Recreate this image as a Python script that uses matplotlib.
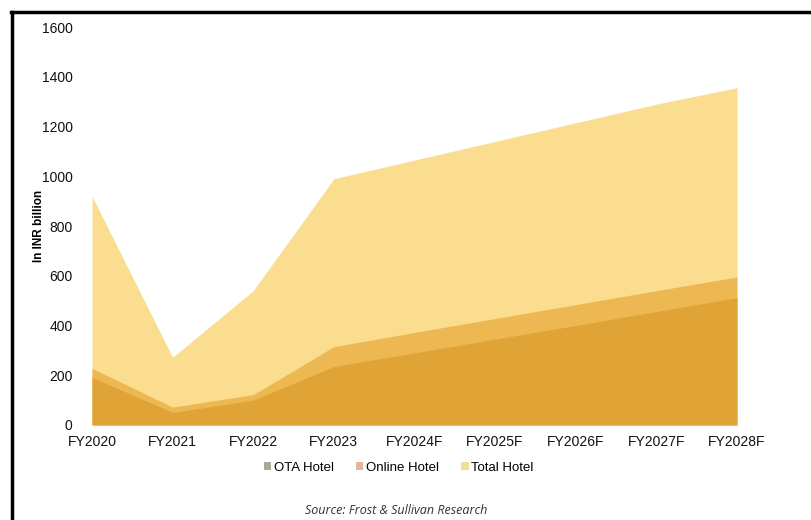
import matplotlib.pyplot as plt
from matplotlib.patches import Patch
from matplotlib.lines import Line2D

plt.rcParams['font.family'] = ['Liberation Sans', 'DejaVu Sans']

# Data (INR billion)
years = ["FY2020", "FY2021", "FY2022", "FY2023", "FY2024F",
         "FY2025F", "FY2026F", "FY2027F", "FY2028F"]
total_hotel = [920, 272, 540, 990, 1065, 1140, 1215, 1290, 1356]
online_hotel = [228, 72, 122, 315, 372, 428, 484, 540, 595]
ota_hotel = [192, 50, 100, 235, 290, 345, 400, 456, 512]

# Area colours and (differently coloured) legend swatches
area_colors = {"total": "#FADD8E", "online": "#EDB851", "ota": "#E0A335"}
legend_colors = ["#B0A79C", "#E2B79C", "#F5DE8C"]

fig = plt.figure(figsize=(8.12, 5.2), dpi=100)
ax = fig.add_axes([0.1133, 0.1827, 0.7943, 0.7653])

x = list(range(len(years)))
ax.fill_between(x, 0, total_hotel, color=area_colors["total"], lw=0)
ax.fill_between(x, 0, online_hotel, color=area_colors["online"], lw=0)
ax.fill_between(x, 0, ota_hotel, color=area_colors["ota"], lw=0)

ax.set_xlim(0, len(years) - 1)
ax.set_ylim(0, 1600)
ax.set_yticks(range(0, 1601, 200))
ax.set_xticks(x)
ax.set_xticklabels(years)
ax.tick_params(length=0, labelsize=10, colors="#111111")
ax.tick_params(axis="y", pad=14)
ax.tick_params(axis="x", pad=7)
for s in ax.spines.values():
    s.set_visible(False)

ax.set_ylabel("In INR billion", fontsize=8.5, fontweight="bold")
ax.yaxis.set_label_coords(-0.073, 0.5)

handles = [Patch(facecolor=c, edgecolor="none") for c in legend_colors]
fig.legend(handles, ["OTA Hotel", "Online Hotel", "Total Hotel"],
           loc="center", bbox_to_anchor=(0.491, 0.100), ncol=3, frameon=False,
           fontsize=9.5, handlelength=0.55, handleheight=0.55,
           handletextpad=0.2, columnspacing=1.7)

fig.text(0.488, 0.018, "Source: Frost & Sullivan Research", ha="center",
         va="center", fontsize=9, style="italic", color="#333333",
         family=["Open Sans", "DejaVu Sans"])

# Black frame lines on the left and top of the image
fig.add_artist(Line2D([0.0148, 0.0148], [0.0, 0.977], color="black", lw=2.5,
                      transform=fig.transFigure))
fig.add_artist(Line2D([0.0133, 1.0], [0.977, 0.977], color="black", lw=2.5,
                      transform=fig.transFigure))

fig.savefig("out.png", dpi=100)
